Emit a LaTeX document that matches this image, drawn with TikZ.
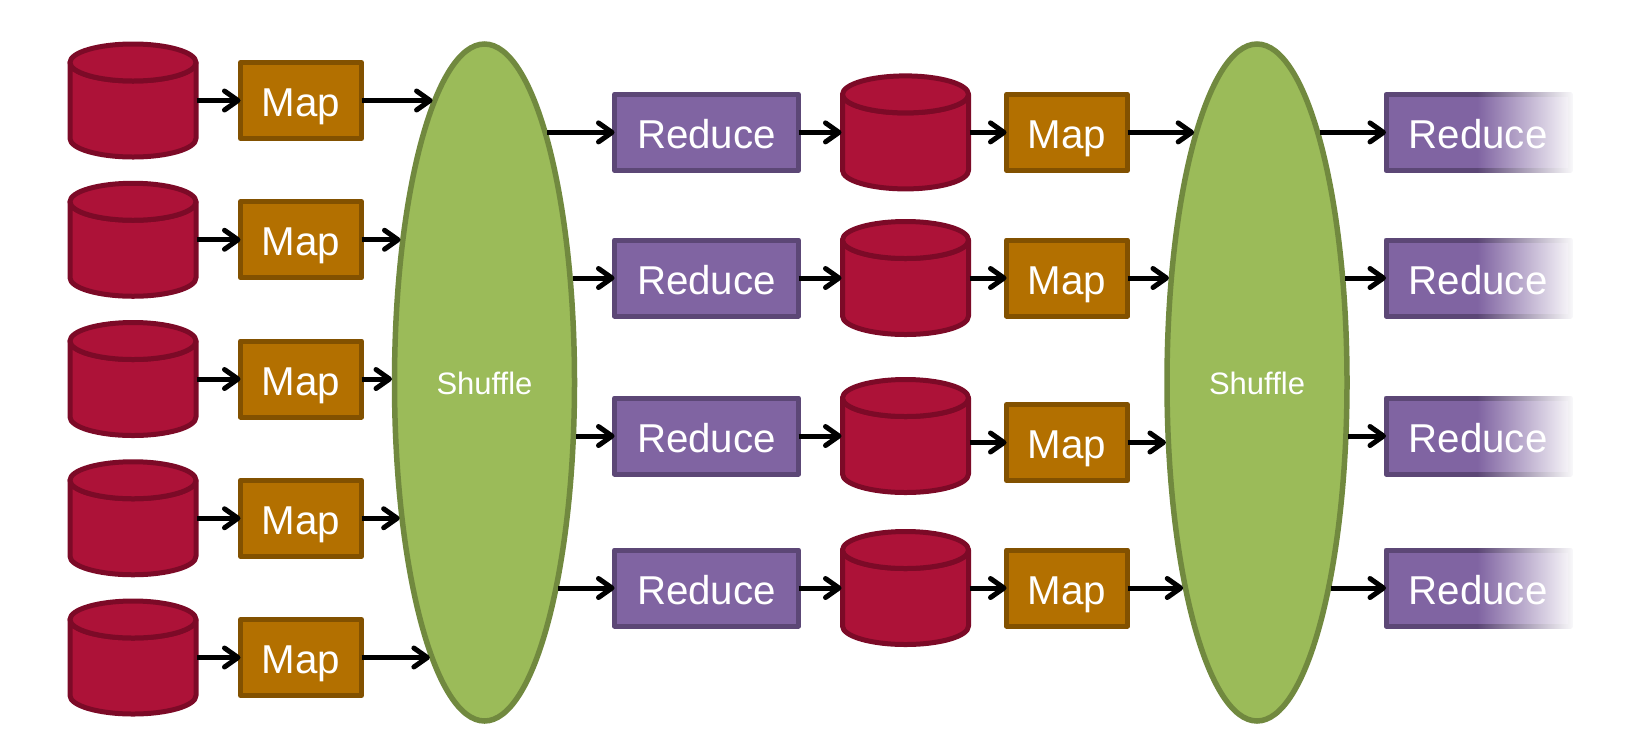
\documentclass[tikz,border=0pt]{standalone}
\usepackage{fontspec}
\setmainfont[Ligatures=NoCommon]{Liberation Sans}
\usetikzlibrary{arrows.meta,fadings,shapes.geometric}
\definecolor{cylfill}{HTML}{AD1238}
\definecolor{cylline}{HTML}{7C0A27}
\definecolor{mapfill}{HTML}{B37000}
\definecolor{mapline}{HTML}{825100}
\definecolor{redfill}{HTML}{8064A2}
\definecolor{redline}{HTML}{5C4776}
\definecolor{shufill}{HTML}{9BBB59}
\definecolor{shuline}{HTML}{71893F}
\tikzfading[name=fadeR, left color=transparent!100, right color=transparent!0]
\tikzset{
  x=1pt,y=-1pt,
  basebox/.style={rectangle,draw,line width=5pt,line join=round,inner sep=0pt,outer sep=0pt,text=white,
    minimum height=76pt,text height=32pt,text depth=0pt,font=\fontsize{40.3}{44}\selectfont},
  mapbox/.style={basebox,fill=mapfill,draw=mapline,minimum width=121pt},
  redbox/.style={basebox,fill=redfill,draw=redline,minimum width=184pt},
  redtext/.style={inner sep=0pt,text=white,text height=32pt,text depth=0pt,font=\fontsize{40.3}{44}\selectfont},
  shuffle/.style={ellipse,draw=shuline,fill=shufill,line width=5.5pt,inner sep=0pt,outer sep=0pt,
    minimum width=180pt,minimum height=677pt,text=white,text height=24pt,text depth=0pt,font=\fontsize{31}{34}\selectfont},
  cylslot/.style={rectangle,inner sep=0pt,outer sep=0pt,minimum width=128pt,minimum height=115pt},
  cylshape/.style={fill=cylfill,draw=cylline,line width=5pt,line join=round},
  flow/.style={line width=5pt,-{Straight Barb[length=13.5pt,width=19pt,line width=5pt,round]}},
}
\newcommand{\cylinderat}[3]{% name, cx, cy
  \node[cylslot] (#1) at (#2,#3) {};
  \draw[cylshape] (#2-63,#3-38) -- (#2-63,#3+38) arc[start angle=180,end angle=0,x radius=63,y radius=18.5]
    -- (#2+63,#3-38) arc[start angle=0,end angle=180,x radius=63,y radius=18.5] -- cycle;
  \draw[cylshape] (#2,#3-38) ellipse[x radius=63,y radius=18.5];
}
\begin{document}
\begin{tikzpicture}
\useasboundingbox (0,0) rectangle (1632,748);
% first column
\foreach \i/\y in {1/100.5,2/239.75,3/379,4/518.25,5/657.5}{
  \cylinderat{c\i}{133}{\y}
  \node[mapbox] (m\i) at (301,\y) {Map};
  \pgfmathsetmacro\dx{92.5*sqrt(1-((\y-382.5)/340.8)^2)}
  \coordinate (a\i) at ({484.5-\dx},\y);
}
% shuffles
\node[shuffle] (s1) at (484.5,382.5) {Shuffle};
\node[shuffle] (s2) at (1257,382.5) {Shuffle};
% second and third stages
\foreach \i/\y/\my in {1/132.4/132.4,2/278/278,3/436/442.5,4/588/588}{
  \node[redbox] (r\i) at (706.5,\y) {Reduce};
  \cylinderat{d\i}{905.5}{\y}
  \node[mapbox] (n\i) at (1067,\my) {Map};
  \node[redbox] (q\i) at (1478,\y) {};
  \fill[white,path fading=fadeR] (1477,\y-44) rectangle (1576,\y+44);
  \node[redtext] (t\i) at (q\i) {Reduce};
  \pgfmathsetmacro\dxa{92.5*sqrt(1-((\y-382.5)/340.8)^2)}
  \pgfmathsetmacro\dxb{92.5*sqrt(1-((\my-382.5)/340.8)^2)}
  \coordinate (b\i) at ({484.5+\dxa},\y);
  \coordinate (e\i) at ({1257-\dxb},\my);
  \coordinate (f\i) at ({1257+\dxa},\y);
}
% connectors
\foreach \i in {1,...,5}{
  \draw[flow] (c\i.east) -- (m\i.west);
  \draw[flow] (m\i.east) -- (a\i);
}
\foreach \i in {1,...,4}{
  \draw[flow] (b\i) -- (r\i.west);
  \draw[flow] (r\i.east) -- (d\i.west);
  \draw[flow] (n\i.west -| d\i.east) -- (n\i.west);
  \draw[flow] (n\i.east) -- (e\i);
  \draw[flow] (f\i) -- (q\i.west);
}
\end{tikzpicture}
\end{document}
